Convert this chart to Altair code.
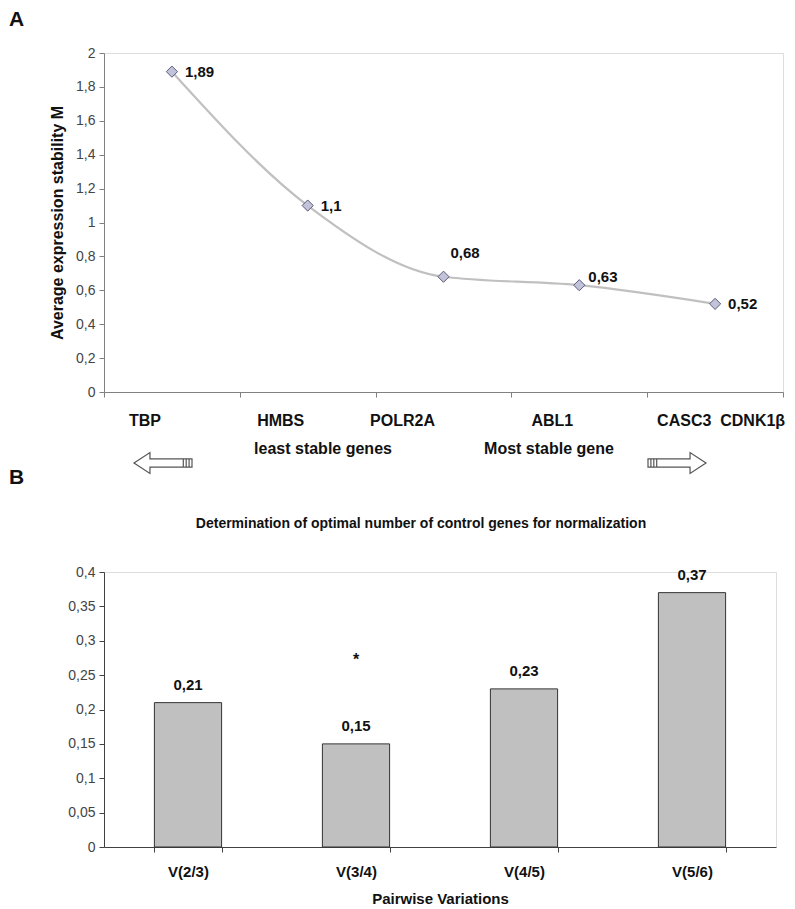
import altair as alt
import pandas as pd

# ---------------- data ----------------
genes = ["TBP", "HMBS", "POLR2A", "ABL1", "CASC3\u00a0 CDNK1β"]
stability_m = [1.89, 1.1, 0.68, 0.63, 0.52]
y_ticks_a = [0, 0.2, 0.4, 0.6, 0.8, 1, 1.2, 1.4, 1.6, 1.8, 2]

pairs = ["V(2/3)", "V(3/4)", "V(4/5)", "V(5/6)"]
pairwise_v = [0.21, 0.15, 0.23, 0.37]
significance = ["", "*", "", ""]
y_ticks_b = [0, 0.05, 0.1, 0.15, 0.2, 0.25, 0.3, 0.35, 0.4]

FONT = "Liberation Sans"
INK = "#111111"
comma = "replace(format(datum.value, '~g'), '.', ',')"

dfa = pd.DataFrame({"gene": genes, "M": stability_m})
dfb = pd.DataFrame({"pair": pairs, "V": pairwise_v, "sig": significance})

# ---------------- panel A ----------------
WA, HA = 679, 339

xa = alt.X(
    "gene:N", sort=genes,
    scale=alt.Scale(type="band", paddingInner=0, paddingOuter=0),
    axis=alt.Axis(
        title=None, labels=False, tickBand="extent", grid=False,
        tickSize=5, domainColor="#808080", tickColor="#808080",
    ),
)
ya = alt.Y(
    "M:Q", scale=alt.Scale(domain=[0, 2]),
    axis=alt.Axis(
        title="Average expression stability M", values=y_ticks_a, labelExpr=comma,
        grid=False, tickSize=5, labelPadding=4, labelFont=FONT, labelFontSize=14,
        labelColor="#444444", titleFont=FONT, titleFontSize=16, titleFontWeight="bold",
        titleColor=INK, titlePadding=10, domainColor="#808080", tickColor="#808080",
    ),
)

base_a = alt.Chart(dfa).transform_calculate(
    label="replace(toString(datum.M), '.', ',')"
).encode(x=xa, y=ya)

line_a = base_a.mark_line(color="#c0c0c0", strokeWidth=2.2, interpolate="monotone")
pts_a = base_a.mark_point(shape="diamond", filled=True, size=125, fill="#c2c2d8",
                          stroke="#5a5a7a", strokeWidth=1, opacity=1)

txt_style = dict(font=FONT, fontWeight="bold", fontSize=15, color=INK,
                 align="left", baseline="middle")
lab_a1 = base_a.transform_filter(
    "datum.gene !== 'POLR2A' && datum.gene !== 'ABL1'"
).mark_text(dx=13, dy=0, **txt_style).encode(text="label:N")
lab_a2 = base_a.transform_filter("datum.gene === 'POLR2A'").mark_text(
    dx=7, dy=-24, **txt_style).encode(text="label:N")
lab_a3 = base_a.transform_filter("datum.gene === 'ABL1'").mark_text(
    dx=9, dy=-8, **txt_style).encode(text="label:N")

# category names under the axis (shifted like in the original figure)
cat_style = dict(font=FONT, fontWeight="bold", fontSize=16, color=INK,
                 align="center", baseline="middle")
cat_base = alt.Chart(dfa).encode(x=xa, y=alt.value(HA + 29), text="gene:N")
cat1 = cat_base.transform_filter(
    "datum.gene === 'TBP' || datum.gene === 'HMBS' || datum.gene === 'ABL1'"
).mark_text(dx=-27, **cat_style)
cat2 = cat_base.transform_filter("datum.gene === 'POLR2A'").mark_text(dx=-41, **cat_style)
cat3 = cat_base.transform_filter("indexof(datum.gene, 'CASC3') >= 0").mark_text(dx=6, **cat_style)


def note(text, x, y, size=16, weight="bold", align="center", baseline="middle"):
    return alt.Chart(pd.DataFrame({"t": [text]})).mark_text(
        font=FONT, fontSize=size, fontWeight=weight, color=INK,
        align=align, baseline=baseline,
    ).encode(text="t:N", x=alt.value(x), y=alt.value(y))


left_arrow = ("M -1 0 L -0.45 -0.36 L -0.45 -0.14 L 1 -0.14 L 1 0.14 L -0.45 0.14 "
              "L -0.45 0.36 Z M 0.7 -0.14 L 0.7 0.14 M 0.8 -0.14 L 0.8 0.14 "
              "M 0.9 -0.14 L 0.9 0.14")
right_arrow = ("M 1 0 L 0.45 -0.36 L 0.45 -0.14 L -1 -0.14 L -1 0.14 L 0.45 0.14 "
               "L 0.45 0.36 Z M -0.7 -0.14 L -0.7 0.14 M -0.8 -0.14 L -0.8 0.14 "
               "M -0.9 -0.14 L -0.9 0.14")


def arrow(path, x, y):
    return alt.Chart(pd.DataFrame({"t": [0]})).mark_point(
        shape=path, filled=False, stroke="#555555", strokeWidth=1.2, size=3364, opacity=1
    ).encode(x=alt.value(x), y=alt.value(y))


panel_a = alt.layer(
    line_a, pts_a, lab_a1, lab_a2, lab_a3, cat1, cat2, cat3,
    note("A", -95, -44, size=21, align="left", baseline="top"),
    note("least stable genes", 219, 396),
    note("Most stable gene", 445, 396),
    arrow(left_arrow, 59, 410),
    arrow(right_arrow, 573, 410),
    note("B", -95, 425, size=21, align="left"),
).properties(width=WA, height=HA)

# ---------------- panel B ----------------
WB, HB = 672, 275

xb = alt.X(
    "pair:N", sort=pairs,
    scale=alt.Scale(paddingInner=0.6, paddingOuter=0.3),
    axis=alt.Axis(
        title="Pairwise Variations", labelAngle=0, tickBand="extent", grid=False,
        labelFont=FONT, labelFontWeight="bold", labelFontSize=15, labelColor=INK,
        labelPadding=12, tickSize=5, domainColor="#404040", tickColor="#404040",
        titleFont=FONT, titleFontSize=15, titleFontWeight="bold", titleColor=INK,
        titlePadding=12,
    ),
)
yb = alt.Y(
    "V:Q", scale=alt.Scale(domain=[0, 0.4]),
    axis=alt.Axis(
        title=None, values=y_ticks_b, labelExpr=comma, grid=False, tickSize=5,
        labelPadding=4, labelFont=FONT, labelFontSize=14, labelColor="#444444",
        domainColor="#404040", tickColor="#404040",
    ),
)

base_b = alt.Chart(dfb).transform_calculate(
    label="replace(toString(datum.V), '.', ',')"
).encode(x=xb, y=yb)

bars_b = base_b.mark_bar(fill="#c0c0c0", stroke="#333333", strokeWidth=1)
lab_b = base_b.mark_text(font=FONT, fontWeight="bold", fontSize=15, color=INK,
                         baseline="bottom", dy=-10).encode(text="label:N")
star_b = base_b.transform_filter("datum.sig !== ''").mark_text(
    font=FONT, fontWeight="bold", fontSize=16, color=INK,
    baseline="middle", dy=-84).encode(text="sig:N")

panel_b = alt.layer(bars_b, lab_b, star_b).properties(
    width=WB, height=HB,
    title=alt.Title(
        "Determination of optimal number of control genes for normalization",
        font=FONT, fontSize=14, fontWeight="bold", color=INK,
        anchor="middle", dx=-19, offset=34,
    ),
)

chart = alt.vconcat(panel_a, panel_b, spacing=27, padding=0).configure_view(
    stroke=None
).configure(background="white")

chart.save("out.html", embed_options={"renderer": "svg", "actions": False})
